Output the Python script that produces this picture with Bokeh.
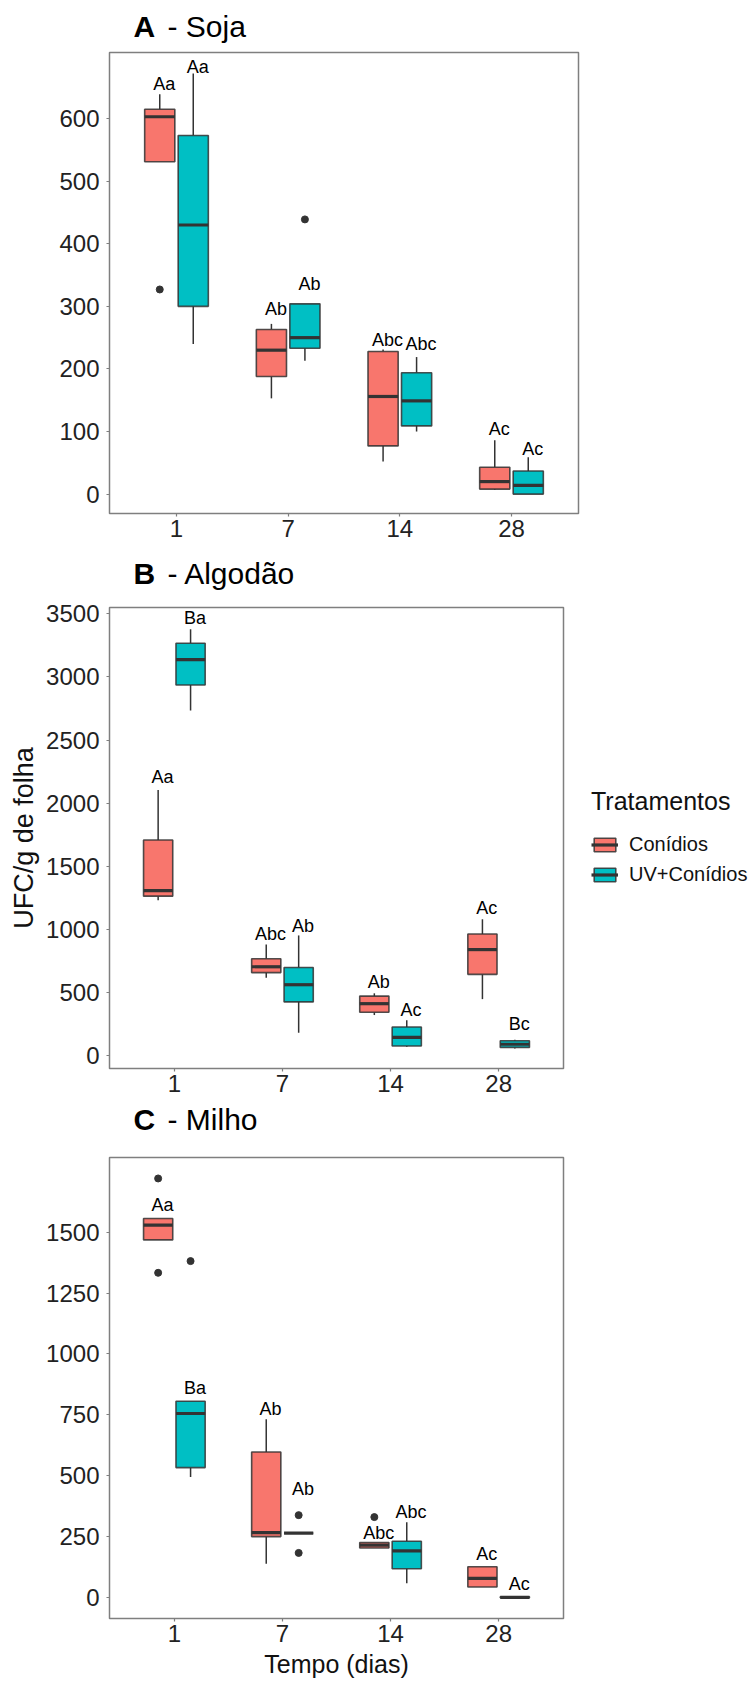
from bokeh.plotting import figure
from bokeh.models import (ColumnDataSource, Range1d, FixedTicker, Legend, LegendItem)
from bokeh.layouts import column
from bokeh.core.properties import value
from bokeh.embed import file_html
from bokeh.resources import INLINE

# ---------------- data ----------------
days = ["1", "7", "14", "28"]
treatments = ["Conídios", "UV+Conídios"]
# groups ordered: day1-Conídios, day1-UV, day7-Conídios, day7-UV, ...

soja_low = [531, 240, 153, 213, 52, 100, 7, 0]
soja_q1 = [531, 300, 188, 233, 77, 109, 8, 0]
soja_median = [603, 430, 230, 250, 156, 149, 20, 14]
soja_q3 = [615, 573, 263, 304, 228, 194, 43, 37]
soja_high = [639, 672, 272, 304, 231, 219, 86, 59]
soja_outliers = [[327], [], [], [439], [], [], [], []]
soja_letters = ["Aa", "Aa", "Ab", "Ab", "Abc", "Abc", "Ac", "Ac"]
soja_letter_y = [655, 683, 296, 335, 246, 240, 104, 72]

algodao_low = [1232, 2734, 619, 183, 324, 74, 450, 60]
algodao_q1 = [1265, 2936, 660, 428, 346, 79, 646, 68]
algodao_median = [1308, 3137, 706, 564, 414, 147, 842, 93]
algodao_q3 = [1709, 3266, 769, 700, 474, 229, 965, 120]
algodao_high = [2104, 3377, 883, 954, 496, 283, 1082, 128]
algodao_outliers = [[], [], [], [], [], [], [], []]
algodao_letters = ["Aa", "Ba", "Abc", "Ab", "Ab", "Ac", "Ac", "Bc"]
algodao_letter_y = [2208, 3462, 965, 1028, 586, 365, 1175, 254]

milho_low = [1468, 495, 140, 265, 204, 60, 44, 0]
milho_q1 = [1468, 534, 251, 265, 204, 119, 44, 0]
milho_median = [1529, 756, 267, 265, 216, 192, 80, 2]
milho_q3 = [1556, 806, 598, 265, 227, 232, 127, 4]
milho_high = [1556, 806, 732, 265, 227, 310, 127, 4]
milho_outliers = [[1720, 1333], [1381], [], [339, 184], [331], [], [], []]
milho_letters = ["Aa", "Ba", "Ab", "Ab", "Abc", "Abc", "Ac", "Ac"]
milho_letter_y = [1611, 859, 776, 447, 264, 350, 180, 56]

# ---------------- style ----------------
COLORS = ["#F8766D", "#00BFC4"]
FONT = "Liberation Sans"
DARK = "#333333"
FRAME = "#7f7f7f"
OFFSET = 0.15
BOX_W = 0.27
X0, X1 = 0.4, 4.6
LEFT = 109


def title_fig(letter, rest, height, mid, frame_w, right):
    t = figure(title=None, frame_width=frame_w, frame_height=height, output_backend="svg",
               toolbar_location=None, x_range=Range1d(LEFT, LEFT + frame_w),
               y_range=Range1d(height, 0), x_axis_location=None, y_axis_location=None,
               min_border_left=LEFT, min_border_right=right, min_border_top=0,
               min_border_bottom=0)
    t.grid.visible = False
    t.outline_line_color = None
    t.background_fill_color = "white"
    t.border_fill_color = "white"
    t.text(x=[133], y=[mid], text=[letter], text_font=value(FONT),
           text_font_size="30px", text_font_style="bold", text_baseline="middle",
           text_color="black")
    t.text(x=[167], y=[mid], text=[rest], text_font=value(FONT),
           text_font_size="30px", text_baseline="middle", text_color="black")
    return t


def make_panel(low, q1, med, q3, high, outliers, letters, letter_y,
               yr, yticks, frame_w, top, bottom, right, ylabel=None,
               xlabel=None, legend=False):
    p = figure(title=None, frame_width=frame_w, frame_height=461,
               output_backend="svg", toolbar_location=None,
               x_range=Range1d(X0, X1), y_range=Range1d(*yr),
               min_border_left=LEFT, min_border_right=right,
               min_border_top=top, min_border_bottom=bottom)
    p.grid.visible = False
    p.background_fill_color = "white"
    p.border_fill_color = "white"
    p.outline_line_color = FRAME
    p.outline_line_width = 1.5

    xs = [i // 2 + 1 + (-OFFSET if i % 2 == 0 else OFFSET) for i in range(len(med))]

    # whiskers
    p.segment(x0=xs, y0=q3, x1=xs, y1=high, line_color=DARK, line_width=1.5)
    p.segment(x0=xs, y0=q1, x1=xs, y1=low, line_color=DARK, line_width=1.5)

    box_r = []
    med_r = []
    for t in range(2):
        idx = [i for i in range(len(med)) if i % 2 == t]
        src = ColumnDataSource(dict(
            x=[xs[i] for i in idx], q1=[q1[i] for i in idx], q3=[q3[i] for i in idx],
            med=[med[i] for i in idx],
            xl=[xs[i] - BOX_W / 2 for i in idx], xr=[xs[i] + BOX_W / 2 for i in idx]))
        b = p.vbar(x="x", width=BOX_W, top="q3", bottom="q1", source=src,
                   fill_color=COLORS[t], line_color=DARK, line_width=1.6,
                   line_alpha=0.85)
        m = p.segment(x0="xl", y0="med", x1="xr", y1="med", source=src,
                      line_color=DARK, line_width=3.2)
        box_r.append(b)
        med_r.append(m)

    ox, oy = [], []
    for i, vals in enumerate(outliers):
        for v in vals:
            ox.append(xs[i])
            oy.append(v)
    if ox:
        p.scatter(ox, oy, size=7, color=DARK)

    p.text(x=[x + 0.04 for x in xs], y=letter_y, text=letters,
           text_font=value(FONT), text_font_size="18px", text_align="center",
           text_baseline="middle", text_color="black")

    # axes
    for ax in (p.xaxis[0], p.yaxis[0]):
        ax.axis_line_color = None
        ax.major_tick_line_color = FRAME
        ax.major_tick_line_width = 1.2
        ax.major_tick_out = 3
        ax.major_tick_in = 0
        ax.minor_tick_line_color = None
        ax.major_label_text_font = FONT
        ax.major_label_text_font_size = "24px"
        ax.major_label_text_color = "#222222"
        ax.axis_label_text_font = FONT
        ax.axis_label_text_font_style = "normal"
        ax.axis_label_text_color = "#111111"
    p.xaxis.ticker = FixedTicker(ticks=[1, 2, 3, 4])
    p.xaxis.major_label_overrides = {i + 1: d for i, d in enumerate(days)}
    p.xaxis.major_label_standoff = 3
    p.yaxis.ticker = FixedTicker(ticks=yticks)
    p.yaxis.major_label_standoff = 7
    if ylabel:
        p.yaxis.axis_label = ylabel
        p.yaxis.axis_label_text_font_size = "27px"
        p.yaxis.axis_label_standoff = 4
    if xlabel:
        p.xaxis.axis_label = xlabel
        p.xaxis.axis_label_text_font_size = "25px"
        p.xaxis.axis_label_standoff = 5

    if legend:
        items = [LegendItem(label=treatments[t], renderers=[box_r[t], med_r[t]])
                 for t in range(2)]
        lg = Legend(items=items, title="Tratamentos", location=(28, 182),
                    margin=0, padding=0, spacing=7, glyph_width=27, glyph_height=17,
                    label_standoff=11, label_text_font=FONT, label_text_font_size="20px",
                    label_text_color="#111111",
                    title_text_font=FONT, title_text_font_size="25px",
                    title_text_font_style="normal", title_text_color="#111111",
                    title_standoff=17, border_line_color=None,
                    background_fill_alpha=0)
        p.add_layout(lg, "right")
    return p


# vertical plan: A title 0-46, A 46-552, B title 552-593, B 593-1102,
#                C title 1102-1149, C 1149-1689
tA = title_fig("A", "- Soja", 46, 25.7, 469, 171)
pA = make_panel(soja_low, soja_q1, soja_median, soja_q3, soja_high,
                soja_outliers, soja_letters, soja_letter_y,
                (-31, 705.7), list(range(0, 601, 100)),
                frame_w=469, top=6, bottom=39, right=171)
tB = title_fig("B", "- Algodão", 41, 20.5, 454, 186)
pB = make_panel(algodao_low, algodao_q1, algodao_median, algodao_q3,
                algodao_high, algodao_outliers, algodao_letters, algodao_letter_y,
                (-99, 3549), list(range(0, 3501, 500)),
                frame_w=454, top=14, bottom=34, right=186,
                ylabel="UFC/g de folha", legend=True)
tC = title_fig("C", "- Milho", 47, 16.5, 454, 186)
pC = make_panel(milho_low, milho_q1, milho_median, milho_q3, milho_high,
                milho_outliers, milho_letters, milho_letter_y,
                (-85, 1806), list(range(0, 1501, 250)),
                frame_w=454, top=8, bottom=71, right=186,
                xlabel="Tempo (dias)")

layout = column(tA, pA, tB, pB, tC, pC, spacing=0)
open("out.html", "w").write(file_html(layout, INLINE))
